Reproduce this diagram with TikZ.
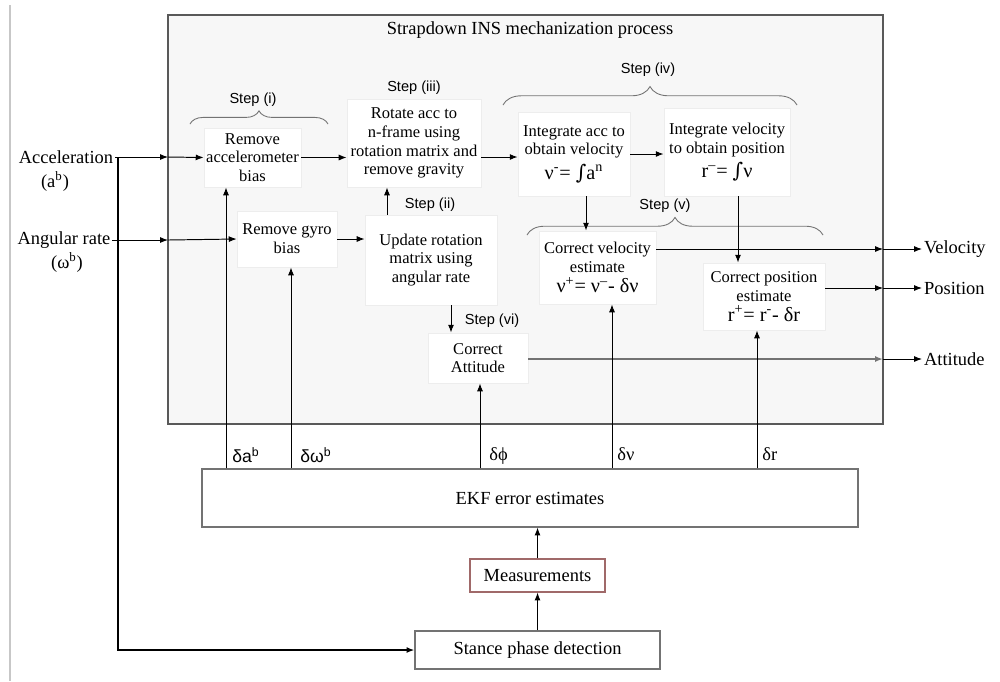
\documentclass[tikz,border=0pt]{standalone}
\usepackage{fontspec}
\setmainfont{Liberation Serif}
\newfontfamily\sansf{Liberation Sans}
\newfontfamily\dvs{DejaVu Serif}
\usetikzlibrary{arrows.meta,decorations.pathreplacing}
\definecolor{measred}{RGB}{160,105,105}
\newcommand{\intg}{{\dvs ∫}}
\begin{document}
\begin{tikzpicture}[x=0.02cm,y=-0.02cm,
  box/.style 2 args={draw=black!7,fill=white,minimum width=#1*0.02cm,minimum height=#2*0.02cm,inner sep=1pt,align=center,font=\fontsize{9.4}{10.7}\selectfont},
  obox/.style 2 args={draw=black!55,fill=white,line width=0.6pt,minimum width=#1*0.02cm,minimum height=#2*0.02cm,inner sep=1pt,font=\fontsize{10.5}{12}\selectfont},
  arr/.style={draw=black,line width=0.55pt,-{Latex[length=4.5pt,width=3.4pt]}},
  steplbl/.style={font=\sansf\fontsize{8.3}{10}\selectfont},
  brc/.style={draw=black!55,line width=0.5pt,decorate,decoration={brace,amplitude=#1}},
  dlbl/.style={font=\fontsize{10.5}{12}\selectfont,anchor=west,inner sep=0pt},
  iolbl/.style={font=\fontsize{10.5}{12}\selectfont,inner sep=1pt},
  frm/.style={draw=black!65,fill=black!3,line width=0.6pt},
]
\useasboundingbox (0,0) rectangle (1000,681);
% left page rule
\draw[black!22,line width=0.8pt] (10,5) -- (10,681);

% frame
\node[frm,minimum width=715*0.02cm,minimum height=409*0.02cm,inner sep=0pt] (frame) at (525.5,219.5) {};
\node[iolbl] (title) at (530,30) {Strapdown INS mechanization process};

% frame edge coordinates
\coordinate (fa) at (168,157);
\coordinate (fg) at (168,240);
\coordinate (fv) at (883,249);
\coordinate (fp) at (883,288);
\coordinate (ft) at (883,359);
\coordinate (jA) at (118,157);
% column / row helpers
\coordinate (c226) at (226,0);
\coordinate (c291) at (291,0);
\coordinate (c387) at (387,0);
\coordinate (c451) at (451,0);
\coordinate (c480) at (480,0);
\coordinate (c586) at (586,0);
\coordinate (c612) at (612,0);
\coordinate (c738) at (738,0);
\coordinate (c757) at (757,0);
\coordinate (y157) at (0,157);
\coordinate (y249) at (0,249);
\coordinate (y288) at (0,288);
\coordinate (y359) at (0,359);

% boxes
\node[box={97}{59}] (accb) at (252.5,157.5) {Remove\\accelerometer\\bias};
\node[box={134}{88}] (rot) at (414,143) {Rotate acc to\\n-frame using\\rotation matrix and\\remove gravity};
\node[box={100}{56}] (gyrob) at (287,239) {Remove gyro\\bias};
\node[box={132}{90}] (upd) at (431,260) {Update rotation\\matrix using\\angular rate};
\node[box={100}{50}] (att) at (478,358) {Correct\\Attitude};
\node[box={112}{84}] (intv) at (574,154) {Integrate acc to\\obtain velocity\\[2pt]{\fontsize{11.5}{12}\selectfont ν\textsuperscript{-}= \intg a\textsuperscript{n}}};
\node[box={126}{88}] (intp) at (727,152) {Integrate velocity\\to obtain position\\[2pt]{\fontsize{11.5}{12}\selectfont r\textsuperscript{--}= \intg ν}};
\node[box={117}{73}] (corv) at (597.5,267.5) {Correct velocity\\estimate\\[1pt]{\fontsize{11.5}{12}\selectfont ν\textsuperscript{+}= ν\textsuperscript{--}- δν}};
\node[box={122}{67}] (corp) at (764,296.5) {Correct position\\estimate\\[1pt]{\fontsize{11.5}{12}\selectfont r\textsuperscript{+}= r\textsuperscript{-}- δr}};

% lower boxes
\node[obox={656}{58}] (ekf) at (530,498) {EKF error estimates};
\node[obox={135}{33},draw=measred] (meas) at (537.5,575.5) {Measurements};
\node[obox={245}{38}] (stance) at (537.5,650) {Stance phase detection};

% inputs
\node[iolbl] (acclbl) at (66,157) {Acceleration};
\node[iolbl] (accsub) at (55,181) {(a\textsuperscript{b})};
\node[iolbl] (angl) at (64,240) {Angular rate};
\node[iolbl] (angsub) at (67,262) {(ω\textsuperscript{b})};

% outputs
\node[iolbl,anchor=west] (vel) at (922,249) {Velocity};
\node[iolbl,anchor=west] (pos) at (922,288) {Position};
\node[iolbl,anchor=west] (atto) at (922,359) {Attitude};

% step labels
\node[steplbl] (s1) at (253,100) {Step (i)};
\node[steplbl] (s3) at (414,88) {Step (iii)};
\node[steplbl] (s2) at (430,205) {Step (ii)};
\node[steplbl] (s4) at (648,70) {Step (iv)};
\node[steplbl] (s5) at (665,206) {Step (v)};
\node[steplbl] (s6) at (492,321) {Step (vi)};

% braces
\draw[brc=7.5pt] (190,124) -- (328,124);
\draw[brc=10.5pt] (503,105) -- (797,105);
\draw[brc=10pt] (527,235) -- (823,235);

% feedback labels
\node[dlbl,font=\sansf\fontsize{10}{12}\selectfont] (lda) at (232,455) {δa\textsuperscript{b}};
\node[dlbl,font=\sansf\fontsize{10}{12}\selectfont] (ldw) at (300,455) {δω\textsuperscript{b}};
\node[dlbl] (ldp) at (489,456) {δϕ};
\node[dlbl] (ldv) at (617,454) {δν};
\node[dlbl] (ldr) at (762,454) {δr};

% input connectors
\draw[arr] (acclbl.east) -- (fa);
\draw[arr] (fa) -- (accb.west);
\draw[arr] (angl.east) -- (fg);
\draw[arr] (fg) -- (gyrob.west);
\draw[arr,line width=0.9pt] (jA) |- (stance.west);

% internal connectors
\draw[arr] (accb.east) -- (rot.west |- accb.east);
\draw[arr] (gyrob.east) -- (upd.west |- gyrob.east);
\draw[arr] (upd.north -| c387) -- (rot.south -| c387);
\draw[arr] (rot.east |- y157) -- (intv.west |- y157);
\draw[arr] (intv.east) -- (intp.west |- intv.east);
\draw[arr] (intv.south -| c586) -- (corv.north -| c586);
\draw[arr] (intp.south -| c738) -- (corp.north -| c738);
\draw[arr] (upd.south -| c451) -- (att.north -| c451);

% outputs
\draw[arr] (corv.east |- y249) -- (fv);
\draw[arr] (fv) -- (vel.west);
\draw[arr] (corp.east |- y288) -- (fp);
\draw[arr] (fp) -- (pos.west);
\draw[arr,draw=black!55,line width=0.9pt] (att.east |- y359) -- (ft);
\draw[arr] (ft) -- (atto.west);

% feedback
\draw[arr] (ekf.north -| c226) -- (accb.south -| c226);
\draw[arr] (ekf.north -| c291) -- (gyrob.south -| c291);
\draw[arr] (ekf.north -| c480) -- (att.south -| c480);
\draw[arr] (ekf.north -| c612) -- (corv.south -| c612);
\draw[arr] (ekf.north -| c757) -- (corp.south -| c757);
\draw[arr] (meas.north) -- (ekf.south -| meas.north);
\draw[arr] (stance.north) -- (meas.south);
\end{tikzpicture}
\end{document}
